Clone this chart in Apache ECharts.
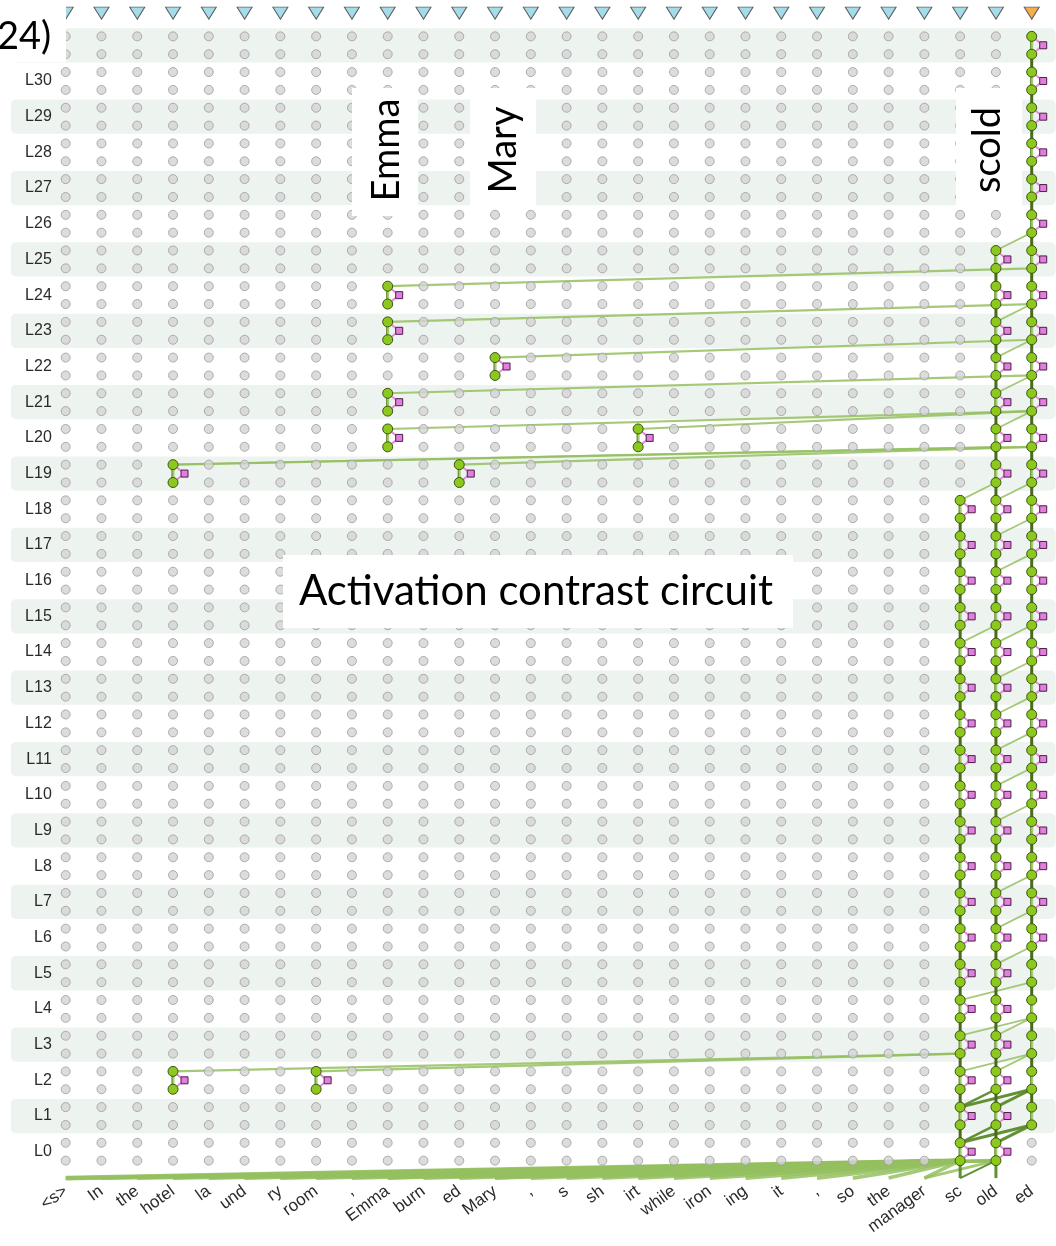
<!DOCTYPE html>
<html><head><meta charset="utf-8">
<script src="https://cdn.jsdelivr.net/npm/echarts@6/dist/echarts.min.js"></script>
<style>html,body{margin:0;padding:0;background:#fff}#c{width:1056px;height:1246px}</style>
</head><body><div id="c"></div>
<script>
// ---------------- DATA ----------------
const tokens = ['<s>','In','the','hotel','la','und','ry','room',',','Emma','burn','ed','Mary',',','s','sh','irt','while','iron','ing','it',',','so','the','manager','sc','old','ed'];
const layerLabels = ['L0','L1','L2','L3','L4','L5','L6','L7','L8','L9','L10','L11','L12','L13','L14','L15','L16','L17','L18','L19','L20','L21','L22','L23','L24','L25','L26','L27','L28','L29','L30'];
// isolated active features: [token index, layer]
const smallNodes = [[3,2],[7,2],[3,19],[11,19],[9,20],[16,20],[9,21],[12,22],[9,23],[9,24]];
// active layers of the three right-hand columns
const scLayers  = [0,1,2,3,4,5,6,7,8,9,10,11,12,13,14,15,16,17,18];
const oldLayers = [0,1,2,3,4,5,6,7,8,9,10,11,12,13,14,15,16,17,18,19,20,21,22,23,24,25];
const edLayers  = [1,2,3,4,5,6,7,8,9,10,11,12,13,14,15,16,17,18,19,20,21,22,23,24,25,26,27,28,29,30,31];
const edSquareLayers = [6,7,8,9,10,11,12,13,14,15,16,17,18,19,20,21,22,23,24,25,26,27,28,29,30,31];
const outputToken = 27;
// edges: [source token, source layer (-1 = embedding), target token, target layer, weight]
const longEdges = [
  [3,2,25,3,1.2],[7,2,25,3,1.2],
  [3,19,27,20,1.2],[3,19,26,20,1.0],[11,19,27,20,1.2],
  [9,20,27,21,1.2],[16,20,27,21,1.2],
  [9,21,27,22,1.2],[12,22,27,23,1.2],[9,23,27,24,1.2],[9,24,27,25,1.2]
];
const crossEdges = [
  [25,18,26,19,1],[25,14,26,15,1],
  [25,4,27,5,1],[25,3,27,4,1],[25,2,27,3,1],
  [26,25,27,26,1],[26,23,27,24,1],[26,22,27,23,1],[26,21,27,22,1],[26,20,27,21,1],
  [26,18,27,19,1],[26,17,27,18,1],[26,16,27,17,1],[26,14,27,15,1],[26,13,27,14,1],
  [26,12,27,13,1],[26,11,27,12,1],[26,10,27,11,1],[26,9,27,10,1],[26,7,27,8,1],
  [26,6,27,7,1],[26,5,27,6,1],[26,3,27,4,1],[26,2,27,3,1]
];
const strongEdges = [
  [25,1,27,2,3],[26,1,27,2,3],[25,0,27,1,3],[26,0,27,1,3],
  [25,1,26,2,2.5],[25,0,26,1,2.5],
  [25,-1,25,0,3],[26,-1,26,0,3],[25,-1,26,0,2]
];
const embedEdges = [
  [0,-1,25,0,2.6],[1,-1,25,0,2],[2,-1,25,0,2],[3,-1,25,0,2.2],[4,-1,25,0,2],[5,-1,25,0,2],
  [6,-1,25,0,2],[7,-1,25,0,2.2],[8,-1,25,0,2],[9,-1,25,0,2.2],[10,-1,25,0,2],[11,-1,25,0,2],
  [12,-1,25,0,2.2],[13,-1,25,0,2],[14,-1,25,0,2],[15,-1,25,0,2],[16,-1,25,0,2],[17,-1,25,0,2],
  [18,-1,25,0,2],[19,-1,25,0,2],[20,-1,25,0,2],[21,-1,25,0,2],[22,-1,25,0,2],[23,-1,25,0,2],[24,-1,25,0,2],
  [0,-1,26,0,2],[9,-1,26,0,1.6],[12,-1,26,0,1.6],[24,-1,26,0,1.6]
];

// ---------------- LAYOUT CONSTANTS ----------------
const SUB = 0.25, EMB_ROW = -0.74, OUTPUT_ROW = 31.9;
const GREEN = '#8cc81e', GREEN_STROKE = '#3b5512';
const PINK = '#e27fde', PINK_STROKE = '#4a1f48';
function yTop(L){ return L < 0 ? EMB_ROW : L + SUB; }
function yBot(L){ return L < 0 ? EMB_ROW : L - SUB; }

// active nodes
const active = [];
smallNodes.forEach(([t,L]) => active.push([t,L,1]));
scLayers.forEach(L => active.push([25,L,1]));
oldLayers.forEach(L => active.push([26,L,1]));
edLayers.forEach(L => active.push([27,L, edSquareLayers.includes(L) ? 1 : 0]));
const activeKey = new Set(active.map(a => a[0] + '_' + a[1]));

// chain segments between consecutive layers
const chains = [];
[[25,scLayers],[26,oldLayers],[27,edLayers]].forEach(([t,arr]) => {
  for (let i = 0; i + 1 < arr.length; i++) chains.push([t, arr[i], arr[i+1]]);
});

// inactive grey dots
const grey = [];
for (let t = 0; t < tokens.length; t++) {
  for (let L = 0; L <= 31; L++) {
    if (activeKey.has(t + '_' + L)) continue;
    grey.push([t, L + SUB]); grey.push([t, L - SUB]);
  }
}
const bandLayers = [];
for (let L = 1; L <= 31; L += 2) bandLayers.push([0, L]);

const edgeData = [];
embedEdges.forEach(e => edgeData.push(e.concat([0])));
longEdges.forEach(e => edgeData.push(e.concat([0])));
crossEdges.forEach(e => edgeData.push(e.concat([0])));
strongEdges.forEach(e => edgeData.push(e.concat([1])));

const chart = echarts.init(document.getElementById('c'), null, {renderer: 'canvas'});
const option = {
  animation: false,
  backgroundColor: '#ffffff',
  grid: {left: 47.8, right: 6.4, top: 9.6, bottom: 58.6},
  xAxis: {
    type: 'category', data: tokens, boundaryGap: true,
    axisLine: {show: false}, axisTick: {show: false}, splitLine: {show: false},
    axisLabel: {interval: 0, rotate: 36, margin: 2, fontSize: 17, color: '#2a2a2a', fontFamily: 'Liberation Sans'}
  },
  yAxis: {
    type: 'value', min: -1, max: 32, interval: 1,
    axisLine: {show: false}, axisTick: {show: false}, splitLine: {show: false},
    axisLabel: {margin: -4, fontSize: 16, color: '#2a2a2a', fontFamily: 'Liberation Sans',
      formatter: v => (v >= 0 && v < layerLabels.length && Number.isInteger(v)) ? layerLabels[v] : ''}
  },
  series: [
    { type: 'custom', z: 0, silent: true, data: bandLayers,
      renderItem: (params, api) => {
        const L = api.value(1);
        const a = api.coord([0, L + 0.48]), b = api.coord([0, L - 0.48]);
        const cs = params.coordSys;
        const x0 = cs.x - 37, x1 = cs.x + cs.width + 6;
        return {type: 'rect', shape: {x: x0, y: a[1], width: x1 - x0, height: b[1] - a[1], r: 5},
                style: {fill: '#edf3ef'}};
      }},
    { type: 'custom', z: 1, silent: true, data: edgeData,
      renderItem: (params, api) => {
        const st = api.value(0), sl = api.value(1), dt = api.value(2), dl = api.value(3), w = api.value(4), strong = api.value(5);
        const p1 = api.coord([st, yTop(sl)]), p2 = api.coord([dt, yBot(dl)]);
        return {type: 'line', shape: {x1: p1[0], y1: p1[1], x2: p2[0], y2: p2[1]},
                style: {stroke: strong ? '#5b8a2a' : '#94bf5f', lineWidth: strong ? w : w * 1.8, opacity: strong ? 0.95 : 0.85}};
      }},
    { type: 'scatter', z: 2, silent: true, data: grey, symbol: 'circle', symbolSize: 9,
      itemStyle: {color: '#d3d3d3', borderColor: '#9c9c9c', borderWidth: 1} },
    { type: 'custom', z: 3, silent: true, data: chains,
      renderItem: (params, api) => {
        const t = api.value(0), a = api.value(1), b = api.value(2);
        const p1 = api.coord([t, yTop(a)]), p2 = api.coord([t, yBot(b)]);
        return {type: 'line', shape: {x1: p1[0], y1: p1[1], x2: p2[0], y2: p2[1]},
                style: {stroke: '#4a6b1d', lineWidth: 3}};
      }},
    { type: 'custom', z: 4, silent: true, data: active,
      renderItem: (params, api) => {
        const t = api.value(0), L = api.value(1), sq = api.value(2);
        const top = api.coord([t, L + SUB]), bot = api.coord([t, L - SUB]), mid = api.coord([t, L]);
        const ch = [];
        ch.push({type: 'line', shape: {x1: bot[0], y1: bot[1], x2: top[0], y2: top[1]}, style: {stroke: '#a6cb78', lineWidth: 3}});
        ch.push({type: 'line', shape: {x1: bot[0] - 1, y1: bot[1], x2: top[0] - 1, y2: top[1]}, style: {stroke: '#5f8a2c', lineWidth: 1}});
        if (sq) {
          const sx = mid[0] + 11.5, sy = mid[1];
          ch.push({type: 'line', shape: {x1: top[0], y1: top[1], x2: sx, y2: sy}, style: {stroke: '#e58ae0', lineWidth: 2}});
          ch.push({type: 'line', shape: {x1: bot[0], y1: bot[1], x2: sx, y2: sy}, style: {stroke: '#e58ae0', lineWidth: 2}});
          ch.push({type: 'rect', shape: {x: sx - 3.5, y: sy - 3.5, width: 7, height: 7}, style: {fill: PINK, stroke: PINK_STROKE, lineWidth: 1}});
        }
        ch.push({type: 'circle', shape: {cx: top[0], cy: top[1], r: 5}, style: {fill: GREEN, stroke: GREEN_STROKE, lineWidth: 1}});
        ch.push({type: 'circle', shape: {cx: bot[0], cy: bot[1], r: 5}, style: {fill: GREEN, stroke: GREEN_STROKE, lineWidth: 1}});
        return {type: 'group', children: ch};
      }},
    { type: 'scatter', z: 5, silent: true, symbol: 'triangle', symbolRotate: 180, symbolSize: [15, 12],
      data: tokens.map((_, i) => ({value: [i, OUTPUT_ROW],
        itemStyle: {color: i === outputToken ? '#f39a22' : '#90d2e2', borderColor: '#3a3a3a', borderWidth: 1}})) }
  ],
  graphic: [
    {type: 'rect', z: 100, shape: {x: 0, y: 0, width: 66, height: 62}, style: {fill: '#fff'}},
    {type: 'text', z: 101, x: -3, y: 37, style: {text: '24)', font: '38px Lato', fill: '#000', align: 'left', verticalAlign: 'middle'}},
    {type: 'rect', z: 100, shape: {x: 352, y: 88, width: 66, height: 128}, style: {fill: '#fff'}},
    {type: 'text', z: 101, x: 387, y: 150, rotation: Math.PI / 2, style: {text: 'Emma', font: '38px Lato', fill: '#000', align: 'center', verticalAlign: 'middle'}},
    {type: 'rect', z: 100, shape: {x: 470, y: 88, width: 66, height: 119}, style: {fill: '#fff'}},
    {type: 'text', z: 101, x: 504, y: 150, rotation: Math.PI / 2, style: {text: 'Mary', font: '38px Lato', fill: '#000', align: 'center', verticalAlign: 'middle'}},
    {type: 'rect', z: 100, shape: {x: 956, y: 88, width: 66, height: 119}, style: {fill: '#fff'}},
    {type: 'text', z: 101, x: 988, y: 150, rotation: Math.PI / 2, style: {text: 'scold', font: '38px Lato', fill: '#000', align: 'center', verticalAlign: 'middle'}},
    {type: 'rect', z: 100, shape: {x: 283, y: 555, width: 510, height: 73}, style: {fill: '#fff'}},
    {type: 'text', z: 101, x: 536, y: 591, style: {text: 'Activation contrast circuit', font: '42px Lato', fill: '#000', align: 'center', verticalAlign: 'middle'}}
  ]
};
chart.setOption(option);
</script></body></html>
